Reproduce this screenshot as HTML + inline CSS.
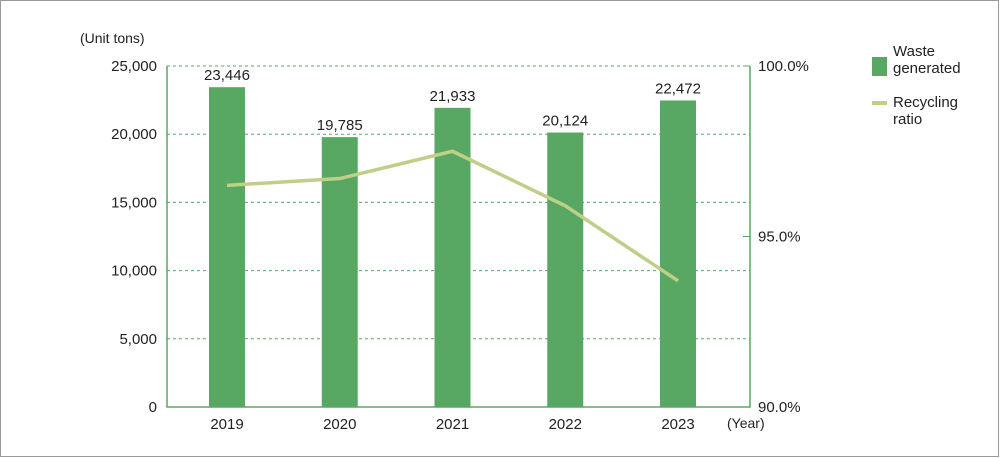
<!DOCTYPE html>
<html><head><meta charset="utf-8"><style>
html,body{margin:0;padding:0;background:#fff}
svg{display:block;font-family:"Liberation Sans",sans-serif}
</style></head><body>
<svg width="1000" height="458" viewBox="0 0 1000 458">
<rect x="0.5" y="0.5" width="998" height="456" fill="#fff" stroke="#999"/>
<g id="grid"></g>
<g id="bars"></g>
<g id="axes"></g>
<g id="line"></g>
<text x="80" y="43" font-size="14" fill="#222">(Unit tons)</text>
<text x="727" y="428" font-size="14" fill="#222">(Year)</text>
<g>
<rect x="872" y="57" width="15" height="19" fill="#58a864"/>
<text x="893" y="56" font-size="15" fill="#222"><tspan x="893">Waste</tspan><tspan x="893" dy="17">generated</tspan></text>
<rect x="872" y="101" width="15" height="4" fill="#bfcf88"/>
<text x="893" y="107" font-size="15" fill="#222"><tspan x="893">Recycling</tspan><tspan x="893" dy="17">ratio</tspan></text>
</g>
</svg>
<script>
const categories=["2019","2020","2021","2022","2023"];
const wasteValues=[23446,19785,21933,20124,22472];
const wasteLabels=["23,446","19,785","21,933","20,124","22,472"];
const recyclingValues=[96.5,96.7,97.5,95.9,93.7];
const leftTicks=[0,5000,10000,15000,20000,25000];
const leftTickLabels=["0","5,000","10,000","15,000","20,000","25,000"];
const rightTicks=[90,95,100];
const rightTickLabels=["90.0%","95.0%","100.0%"];
const NS="http://www.w3.org/2000/svg";
const X0=167,X1=750,Y0=407,Y1=66;
const yL=v=>Y0-(v/25000)*(Y0-Y1);
const yR=v=>Y0-((v-90)/10)*(Y0-Y1);
const xC=i=>227+i*112.75;
function mk(p,t,a){const e=document.createElementNS(NS,t);for(const k in a)e.setAttribute(k,a[k]);p.appendChild(e);return e;}
const grid=document.getElementById('grid'),bars=document.getElementById('bars'),axes=document.getElementById('axes'),line=document.getElementById('line');
leftTicks.forEach((v,i)=>{
  if(v>0){const g=mk(grid,'line',{x1:X0,x2:X1,y1:yL(v),y2:yL(v),stroke:'#58a864','stroke-dasharray':'3,3','stroke-width':1});
  
  }
  const t=mk(axes,'text',{x:X0-10,y:yL(v)+5,'text-anchor':'end','font-size':15,fill:'#222'});
  t.textContent=leftTickLabels[i];
  
  
});
rightTicks.forEach((v,i)=>{
  const k=mk(axes,'line',{x1:X1-7,x2:X1,y1:yR(v),y2:yR(v),stroke:'#58a864'});
  
  
  const t=mk(axes,'text',{x:X1+8,y:yR(v)+5,'font-size':15,fill:'#222'});
  t.textContent=rightTickLabels[i];
  
  
});
categories.forEach((c,i)=>{
  const b=mk(bars,'rect',{x:xC(i)-18,y:yL(wasteValues[i]),width:36,height:Y0-yL(wasteValues[i]),fill:'#58a864'});
  
  
  const l=mk(bars,'text',{x:xC(i),y:yL(wasteValues[i])-7,'text-anchor':'middle','font-size':15,fill:'#222'});
  l.textContent=wasteLabels[i];
  
  
  const t=mk(axes,'text',{x:xC(i),y:Y0+22,'text-anchor':'middle','font-size':15,fill:'#222'});
  t.textContent=c;
  
  
});
const ax=mk(axes,'path',{d:`M${X0},${Y1}V${Y0}H${X1}V${Y1}`,fill:'none',stroke:'#58a864','stroke-width':1.5});


const pts=recyclingValues.map((v,i)=>xC(i)+','+yR(v)).join(' ');
const pl=mk(line,'polyline',{points:pts,fill:'none',stroke:'#bfcf88','stroke-width':3.5});


</script>
</body></html>
